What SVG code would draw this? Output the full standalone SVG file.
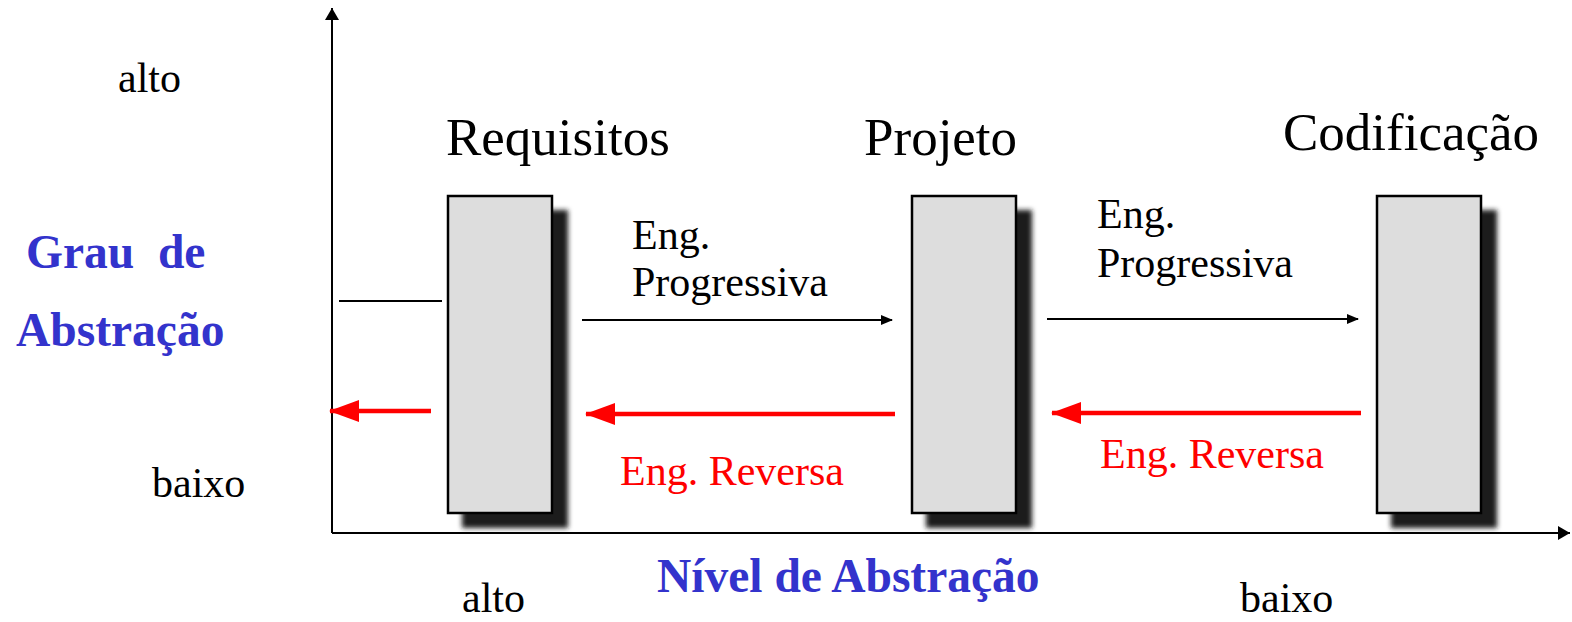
<svg xmlns="http://www.w3.org/2000/svg" width="1572" height="622" viewBox="0 0 1572 622">
<style>
.t{font-family:"Liberation Serif","Times New Roman",serif;fill:#000}
.s{font-size:42px}
.l{font-size:53px}
.b{font-family:"Liberation Serif","Times New Roman",serif;font-weight:bold;font-size:47.5px;fill:#3333cc}
.r{fill:#ff0000}
.box{fill:#dddddd;stroke:#000;stroke-width:2.5}
.sh{fill:#1e1e1e;filter:url(#blur)}
.ax{stroke:#000;stroke-width:2;fill:none}
.fw{stroke:#000;stroke-width:1.8;fill:none;marker-end:url(#ah)}
.rv{stroke:#ff0000;stroke-width:4.5;fill:none;marker-end:url(#rh)}
</style>
<defs>
<filter id="blur" x="-20%" y="-20%" width="140%" height="140%"><feGaussianBlur stdDeviation="2.5"/></filter>
<marker id="ah" markerWidth="12" markerHeight="10" refX="11" refY="5" orient="auto" markerUnits="userSpaceOnUse"><path d="M0,0 L12,5 L0,10 Z" fill="#000"/></marker>
<marker id="ax" markerWidth="12" markerHeight="14" refX="12" refY="7" orient="auto" markerUnits="userSpaceOnUse"><path d="M0,0 L12,7 L0,14 Z" fill="#000"/></marker>
<marker id="rh" markerWidth="30" markerHeight="22" refX="29" refY="11" orient="auto" markerUnits="userSpaceOnUse"><path d="M0,0 L30,11 L0,22 Z" fill="#ff0000"/></marker>
</defs>
<g id="axes">
<line class="ax" x1="332" y1="533" x2="332" y2="8" marker-end="url(#ax)"/>
<line class="ax" x1="332" y1="533" x2="1570" y2="533" marker-end="url(#ax)"/>
</g>
<g id="requisitos">
<rect class="sh" x="462" y="210" width="106" height="318"/>
<rect class="box" x="448" y="196" width="104" height="317"/>
<text class="t l" x="446" y="155">Requisitos</text>
</g>
<g id="projeto">
<rect class="sh" x="926" y="210" width="106" height="318"/>
<rect class="box" x="912" y="196" width="104" height="317"/>
<text class="t l" x="864" y="155">Projeto</text>
</g>
<g id="codificacao">
<rect class="sh" x="1391" y="210" width="106" height="318"/>
<rect class="box" x="1377" y="196" width="104" height="317"/>
<text class="t l" x="1283" y="150">Codificação</text>
</g>
<g id="connectors">
<line x1="339" y1="301" x2="442" y2="301" stroke="#000" stroke-width="2"/>
<line class="fw" x1="582" y1="320" x2="892" y2="320"/>
<line class="fw" x1="1047" y1="319" x2="1358" y2="319"/>
<line class="rv" x1="431" y1="411" x2="330" y2="411"/>
<line class="rv" x1="895" y1="414" x2="586" y2="414"/>
<line class="rv" x1="1361" y1="413" x2="1052" y2="413"/>
</g>
<g id="labels">
<text class="t s" x="118" y="92">alto</text>
<text class="t s" x="152" y="497">baixo</text>
<text class="t s" x="462" y="612">alto</text>
<text class="t s" x="1240" y="612">baixo</text>
<text class="t s" x="632" y="249">Eng.</text>
<text class="t s" x="632" y="296">Progressiva</text>
<text class="t s" x="1097" y="228">Eng.</text>
<text class="t s" x="1097" y="277">Progressiva</text>
<text class="t s r" x="620" y="485">Eng. Reversa</text>
<text class="t s r" x="1100" y="468">Eng. Reversa</text>
<text class="b" x="26" y="268" xml:space="preserve">Grau  de</text>
<text class="b" x="16" y="346">Abstração</text>
<text class="b" x="657" y="592">Nível de Abstração</text>
</g>
</svg>
